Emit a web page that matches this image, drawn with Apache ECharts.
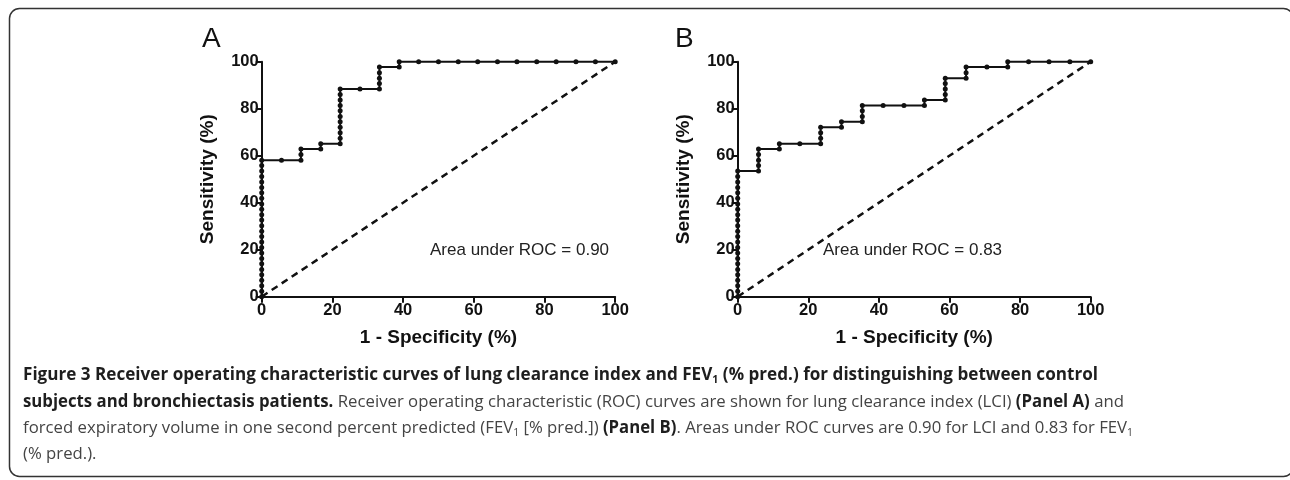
<!DOCTYPE html>
<html>
<head>
<meta charset="utf-8">
<title>ROC curves</title>
<script src="https://cdn.jsdelivr.net/npm/echarts@6.0.0/dist/echarts.min.js"></script>
<style>
  html, body { margin: 0; padding: 0; background: #fff; }
  #chart { width: 1290px; height: 480px; }
  .cap {
    position: absolute; left: 23px; white-space: nowrap;
    font-family: "Open Sans", "Noto Sans", sans-serif; font-size: 17px; line-height: 24px;
    color: #444; transform-origin: 0 0;
  }
  .cap b { color: #1e1e1e; font-weight: 700; }
  .cap sub { font-size: 0.62em; vertical-align: -0.3em; line-height: 0; }
</style>
</head>
<body>
<div id="chart"></div>
<div class="cap" style="top:362px"><b>Figure 3 Receiver operating characteristic curves of lung clearance index and FEV<sub>1</sub> (% pred.) for distinguishing between control</b></div>
<div class="cap" style="top:389px"><b>subjects and bronchiectasis patients.</b> Receiver operating characteristic (ROC) curves are shown for lung clearance index (LCI) <b>(Panel A)</b> and</div>
<div class="cap" style="top:415px">forced expiratory volume in one second percent predicted (FEV<sub>1</sub> [% pred.]) <b>(Panel B)</b>. Areas under ROC curves are 0.90 for LCI and 0.83 for FEV<sub>1</sub></div>
<div class="cap" style="top:441px">(% pred.).</div>
<script>
// Panel A: LCI (1 - specificity %, sensitivity %)
var fprA = [0, 0, 0, 0, 0, 0, 0, 0, 0, 0, 0, 0, 0, 0, 0, 0, 0, 0, 0, 0, 0, 0, 0, 0, 0, 0,
  5.6, 11.1, 11.1, 11.1, 16.7, 16.7, 22.2,
  22.2, 22.2, 22.2, 22.2, 22.2, 22.2, 22.2, 22.2, 22.2, 22.2,
  27.8, 33.3, 33.3, 33.3, 33.3, 33.3, 38.9, 38.9,
  44.4, 50, 55.6, 61.1, 66.7, 72.2, 77.8, 83.3, 88.9, 94.4, 100];
var tprA = [0, 2.3, 4.7, 7.0, 9.3, 11.6, 14.0, 16.3, 18.6, 20.9, 23.3, 25.6, 27.9, 30.2, 32.6, 34.9, 37.2, 39.5, 41.9, 44.2, 46.5, 48.8, 51.2, 53.5, 55.8, 58.1,
  58.1, 58.1, 60.5, 62.8, 62.8, 65.1, 65.1,
  67.4, 69.8, 72.1, 74.4, 76.7, 79.1, 81.4, 83.7, 86.0, 88.4,
  88.4, 88.4, 90.7, 93.0, 95.3, 97.7, 97.7, 100,
  100, 100, 100, 100, 100, 100, 100, 100, 100, 100, 100];

// Panel B: FEV1 % pred.
var fprB = [0, 0, 0, 0, 0, 0, 0, 0, 0, 0, 0, 0, 0, 0, 0, 0, 0, 0, 0, 0, 0, 0, 0, 0,
  5.9, 5.9, 5.9, 5.9, 5.9, 11.8, 11.8, 17.6, 23.5, 23.5, 23.5, 23.5,
  29.4, 29.4, 35.3, 35.3, 35.3, 35.3, 41.2, 47.1, 52.9, 52.9,
  58.8, 58.8, 58.8, 58.8, 58.8, 64.7, 64.7, 64.7, 70.6, 76.5, 76.5,
  82.4, 88.2, 94.1, 100];
var tprB = [0, 2.3, 4.7, 7.0, 9.3, 11.6, 14.0, 16.3, 18.6, 20.9, 23.3, 25.6, 27.9, 30.2, 32.6, 34.9, 37.2, 39.5, 41.9, 44.2, 46.5, 48.8, 51.2, 53.5,
  53.5, 55.8, 58.1, 60.5, 62.8, 62.8, 65.1, 65.1, 65.1, 67.4, 69.8, 72.1,
  72.1, 74.4, 74.4, 76.7, 79.1, 81.4, 81.4, 81.4, 81.4, 83.7,
  83.7, 86.0, 88.4, 90.7, 93.0, 93.0, 95.3, 97.7, 97.7, 97.7, 100,
  100, 100, 100, 100];

var refLine = [0, 100];
var aucText = ['Area under ROC = 0.90', 'Area under ROC = 0.83'];
var panelNames = ['A', 'B'];

var font = '"Liberation Sans", Arial, sans-serif';
var ink = '#111';

function pairs(xs, ys) {
  return xs.map(function (x, i) { return [x, ys[i]]; });
}

function xAxisOpt(idx) {
  return {
    type: 'value', gridIndex: idx, min: 0, max: 100, interval: 20,
    name: '1 - Specificity (%)', nameLocation: 'middle', nameGap: 32,
    nameTextStyle: { fontFamily: font, fontWeight: 'bold', fontSize: 19, color: ink },
    axisLine: { show: true, onZero: false, lineStyle: { color: ink, width: 2 } },
    axisTick: { show: true, length: 6, lineStyle: { color: ink, width: 2 } },
    axisLabel: { fontFamily: font, fontWeight: 'bold', fontSize: 16.5, color: ink, margin: 5 },
    splitLine: { show: false }
  };
}

function yAxisOpt(idx) {
  return {
    type: 'value', gridIndex: idx, min: 0, max: 100, interval: 20,
    name: 'Sensitivity (%)', nameLocation: 'middle', nameGap: 44,
    nameTextStyle: { fontFamily: font, fontWeight: 'bold', fontSize: 19, color: ink },
    axisLine: { show: true, onZero: false, lineStyle: { color: ink, width: 2 } },
    axisTick: { show: true, length: 6, lineStyle: { color: ink, width: 2 } },
    axisLabel: { fontFamily: font, fontWeight: 'bold', fontSize: 16.5, color: ink, margin: 3 },
    splitLine: { show: false }
  };
}

function rocSeries(idx, data) {
  return {
    type: 'line', xAxisIndex: idx, yAxisIndex: idx, data: data,
    symbol: 'circle', symbolSize: 5, showSymbol: true, clip: false, z: 3,
    itemStyle: { color: ink },
    lineStyle: { color: ink, width: 2 }
  };
}

function chanceSeries(idx) {
  return {
    type: 'line', xAxisIndex: idx, yAxisIndex: idx, data: pairs(refLine, refLine),
    showSymbol: false, z: 2,
    lineStyle: { color: ink, width: 2.5, type: [7, 5] }
  };
}

var chart = echarts.init(document.getElementById('chart'), null, { renderer: 'canvas' });
chart.setOption({
  animation: false,
  backgroundColor: '#fff',
  grid: [
    { left: 261.7, top: 61.7, width: 353.5, height: 235 },
    { left: 737.7, top: 61.7, width: 353, height: 235 }
  ],
  xAxis: [xAxisOpt(0), xAxisOpt(1)],
  yAxis: [yAxisOpt(0), yAxisOpt(1)],
  series: [
    chanceSeries(0), rocSeries(0, pairs(fprA, tprA)),
    chanceSeries(1), rocSeries(1, pairs(fprB, tprB))
  ],
  graphic: [
    { type: 'rect', silent: true, shape: { x: 9.5, y: 8.5, width: 1284, height: 468, r: 10 },
      style: { fill: 'none', stroke: '#333', lineWidth: 1.5 } },
    { type: 'text', left: 202, top: 25, style: { text: panelNames[0], font: '28px ' + font, fill: ink } },
    { type: 'text', left: 675, top: 25, style: { text: panelNames[1], font: '28px ' + font, fill: ink } },
    { type: 'text', left: 430, top: 242, style: { text: aucText[0], font: '17px ' + font, fill: '#222' } },
    { type: 'text', left: 823, top: 242, style: { text: aucText[1], font: '17px ' + font, fill: '#222' } }
  ]
});

// squeeze each caption line to the width it takes in the figure
var capEnds = [1098, 1124, 1133];
var caps = document.querySelectorAll('.cap');
var lastScale = 1;
caps.forEach(function (el, i) {
  var w = el.getBoundingClientRect().width;
  var s = capEnds[i] ? (capEnds[i] - 23) / w : lastScale;
  el.style.transform = 'scaleX(' + s + ')';
  lastScale = s;
});
</script>
</body>
</html>
